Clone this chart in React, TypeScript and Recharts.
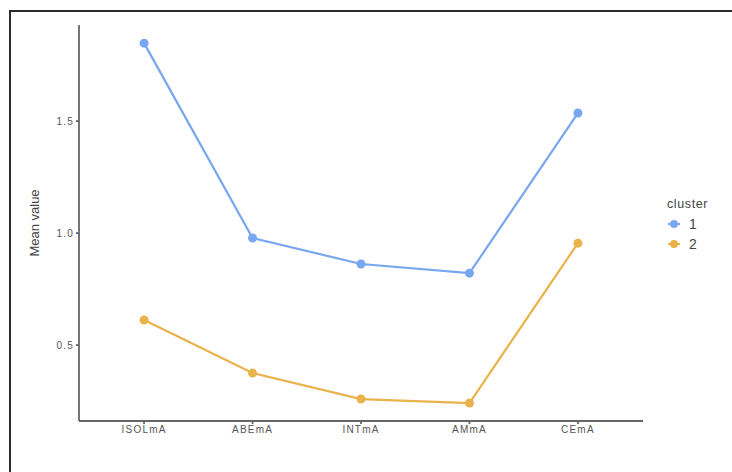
import { Line, LineChart, XAxis, YAxis } from "recharts";

const CATEGORIES = ["ISOLmA", "ABEmA", "INTmA", "AMmA", "CEmA"];
const CLUSTER_1 = [1.848, 0.978, 0.862, 0.821, 1.536];
const CLUSTER_2 = [0.612, 0.375, 0.259, 0.241, 0.955];
const Y_TICKS = [0.5, 1.0, 1.5];

const BLUE = "#78a7ef";
const ORANGE = "#e9b24a";
const FONT = "'Liberation Sans', Arial, sans-serif";
const TICK = { fill: "#555", fontSize: 10, fontFamily: FONT, letterSpacing: 1.2 };

const data = CATEGORIES.map((name, i) => ({ x: i + 1, name, c1: CLUSTER_1[i], c2: CLUSTER_2[i] }));

function ClusterLegend() {
  const rows = [
    { label: "1", color: BLUE },
    { label: "2", color: ORANGE },
  ];
  return (
    <div style={{ position: "absolute", left: 667, top: 197, fontFamily: FONT }}>
      <div style={{ fontSize: 12.5, color: "#444", letterSpacing: 0.6, marginBottom: 3 }}>cluster</div>
      {rows.map((r) => (
        <div key={r.label} style={{ display: "flex", alignItems: "center", height: 20 }}>
          <svg width={14} height={12}>
            <line x1={1} x2={13} y1={6} y2={6} stroke={r.color} strokeWidth={2} />
            <circle cx={7} cy={6} r={4} fill={r.color} />
          </svg>
          <span style={{ fontSize: 14, marginLeft: 8, color: "#444" }}>{r.label}</span>
        </div>
      ))}
    </div>
  );
}

export default function App() {
  return (
    <div style={{ position: "absolute", left: 0, top: 0, width: 732, height: 472, overflow: "hidden", background: "#fff" }}>
      <div style={{ position: "absolute", left: 9, top: 10, width: 760, height: 500, border: "2px solid #2b2b2b" }} />
      <div style={{ position: "absolute", left: 0, top: 0 }}>
        <LineChart width={732} height={472} data={data} margin={{ top: 25, right: 89, bottom: 21, left: 0 }}>
          <XAxis
            dataKey="x"
            type="number"
            domain={[0.4, 5.6]}
            ticks={[1, 2, 3, 4, 5]}
            tickFormatter={(v: number) => CATEGORIES[v - 1] ?? ""}
            height={30}
            stroke="#666"
            strokeWidth={1.8}
            tickSize={3}
            tick={TICK}
            allowDataOverflow
          />
          <YAxis
            type="number"
            domain={[0.161, 1.929]}
            ticks={Y_TICKS}
            tickFormatter={(v: number) => v.toFixed(1)}
            width={79}
            stroke="#666"
            strokeWidth={1.8}
            tickSize={3}
            tick={TICK}
            allowDataOverflow
            label={{ value: "Mean value", angle: -90, position: "insideLeft", offset: 34, fill: "#444", fontSize: 13, fontFamily: FONT, style: { textAnchor: "middle" } }}
          />
          <Line dataKey="c1" stroke={BLUE} strokeWidth={2.2} dot={{ r: 4.5, fill: BLUE, stroke: BLUE, strokeWidth: 0 }} isAnimationActive={false} />
          <Line dataKey="c2" stroke={ORANGE} strokeWidth={2.2} dot={{ r: 4.5, fill: ORANGE, stroke: ORANGE, strokeWidth: 0 }} isAnimationActive={false} />
        </LineChart>
      </div>
      <ClusterLegend />
    </div>
  );
}
